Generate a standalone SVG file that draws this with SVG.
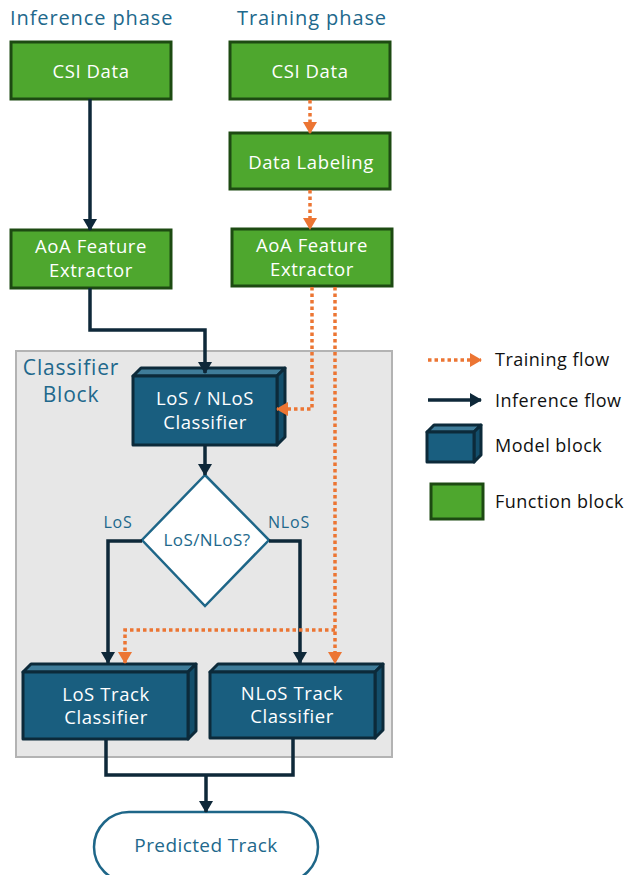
<svg xmlns="http://www.w3.org/2000/svg" width="629" height="875" viewBox="0 0 629 875">
  <defs>
    <style>
      .title { font-family: "Open Sans", "Liberation Sans", sans-serif; font-size: 20px; letter-spacing: 0.9px; fill: #21688c; }
      .fn rect { fill: #4ea72e; stroke: #1d4a12; stroke-width: 3; }
      .lbl { font-family: "Open Sans", "Liberation Sans", sans-serif; font-size: 18.5px; letter-spacing: 0.6px; fill: #ffffff; text-anchor: middle; }
      .front { fill: #195e7f; stroke: #0c2a3a; stroke-width: 3; stroke-linejoin: round; }
      .top { fill: #3f7c99; stroke: #0c2a3a; stroke-width: 3; stroke-linejoin: round; }
      .side { fill: #134e6b; stroke: #0c2a3a; stroke-width: 3; stroke-linejoin: round; }
      .inf { fill: none; stroke: #0e2839; stroke-width: 3.5; marker-end: url(#arrInf); }
      .inf-plain { fill: none; stroke: #0e2839; stroke-width: 3.5; }
      .trn { fill: none; stroke: #ec7533; stroke-width: 3.5; stroke-dasharray: 3.5 3; }
      .trn-end { marker-end: url(#arrTrn); }
      .blue { font-family: "Open Sans", "Liberation Sans", sans-serif; fill: #21688c; text-anchor: middle; }
      .legend { font-family: "Open Sans", "Liberation Sans", sans-serif; font-size: 18px; letter-spacing: 0.5px; fill: #111111; }
    </style>
    <marker id="arrInf" markerUnits="userSpaceOnUse" markerWidth="14" markerHeight="14" viewBox="0 0 12 14" refX="11" refY="7" orient="auto">
      <path d="M0,0 L12,7 L0,14 z" fill="#0e2839"/>
    </marker>
    <marker id="arrTrn" markerUnits="userSpaceOnUse" markerWidth="14" markerHeight="14" viewBox="0 0 12 14" refX="11" refY="7" orient="auto">
      <path d="M0,0 L12,7 L0,14 z" fill="#ec7533"/>
    </marker>
  </defs>

  <rect width="629" height="875" fill="#ffffff"/>

  <!-- phase titles -->
  <text class="title" x="10" y="25">Inference phase</text>
  <text class="title" x="237" y="25">Training phase</text>

  <!-- classifier container -->
  <g id="classifier-block">
    <rect x="16" y="351" width="376" height="406" fill="#e7e7e7" stroke="#b3b3b3" stroke-width="2"/>
    <text class="blue" font-size="21" letter-spacing="0.8" x="71" y="375">Classifier</text>
    <text class="blue" font-size="21" letter-spacing="0.8" x="71" y="402">Block</text>
  </g>

  <!-- function blocks -->
  <g id="inf-csi" class="fn">
    <rect x="11" y="42" width="160" height="57"/>
    <text class="lbl" x="91" y="78">CSI Data</text>
  </g>
  <g id="trn-csi" class="fn">
    <rect x="230" y="42" width="160" height="57"/>
    <text class="lbl" x="310" y="78">CSI Data</text>
  </g>
  <g id="trn-label" class="fn">
    <rect x="230" y="133" width="160" height="56"/>
    <text class="lbl" x="311" y="169">Data Labeling</text>
  </g>
  <g id="inf-aoa" class="fn">
    <rect x="11" y="230" width="160" height="58"/>
    <text class="lbl" x="91" y="253">AoA Feature</text>
    <text class="lbl" x="91" y="277">Extractor</text>
  </g>
  <g id="trn-aoa" class="fn">
    <rect x="232" y="229" width="160" height="57"/>
    <text class="lbl" x="312" y="252">AoA Feature</text>
    <text class="lbl" x="312" y="276">Extractor</text>
  </g>

  <!-- model blocks (front, top and side faces) -->
  <g id="los-nlos-classifier">
    <polygon class="top" points="133,376 141,368 285,368 277,376"/>
    <polygon class="side" points="277,376 285,368 285,437 277,445"/>
    <rect class="front" x="133" y="376" width="144" height="69"/>
    <text class="lbl" x="205" y="405">LoS / NLoS</text>
    <text class="lbl" x="205" y="429">Classifier</text>
  </g>
  <g id="los-track">
    <polygon class="top" points="23,672 31,664 196,664 188,672"/>
    <polygon class="side" points="188,672 196,664 196,731 188,739"/>
    <rect class="front" x="23" y="672" width="165" height="67"/>
    <text class="lbl" x="106" y="701">LoS Track</text>
    <text class="lbl" x="106" y="724">Classifier</text>
  </g>
  <g id="nlos-track">
    <polygon class="top" points="210,672 218,664 383,664 375,672"/>
    <polygon class="side" points="375,672 383,664 383,730 375,738"/>
    <rect class="front" x="210" y="672" width="165" height="66"/>
    <text class="lbl" x="292" y="700">NLoS Track</text>
    <text class="lbl" x="292" y="723">Classifier</text>
  </g>

  <!-- decision -->
  <g id="decision">
    <polygon points="205,475 269,540 205,606 142,540" fill="#ffffff" stroke="#1e6688" stroke-width="2.5"/>
    <text class="blue" font-size="17" letter-spacing="0.4" x="207" y="546">LoS/NLoS?</text>
    <text class="blue" font-size="16" letter-spacing="0.8" x="118" y="528">LoS</text>
    <text class="blue" font-size="16" letter-spacing="0.8" x="289" y="528">NLoS</text>
  </g>

  <!-- output terminal -->
  <g id="predicted-track">
    <rect x="94" y="812" width="224" height="70" rx="35" ry="35" fill="#ffffff" stroke="#1e6688" stroke-width="2.5"/>
    <text class="blue" font-size="19" letter-spacing="0.4" x="206" y="852">Predicted Track</text>
  </g>

  <!-- connectors -->
  <g id="connectors">
    <path class="inf" d="M90,99 V230"/>
    <path class="inf" d="M90,288 V330 H205 V373"/>
    <path class="inf" d="M205,445 V475"/>
    <path class="inf" d="M142,541 H108 V663"/>
    <path class="inf" d="M269,541 H300 V663"/>
    <path class="inf-plain" d="M106,739 V775 H293 V738"/>
    <path class="inf" d="M206,775 V812"/>

    <path class="trn trn-end" d="M310,100 V133"/>
    <path class="trn trn-end" d="M310,190 V229"/>
    <path class="trn trn-end" d="M312,287 V409 H277"/>
    <path class="trn trn-end" d="M335,287 V663"/>
    <path class="trn trn-end" d="M335,630 H125 V663"/>
  </g>

  <!-- legend -->
  <g id="legend">
    <path class="trn trn-end" d="M428,360 H481"/>
    <text class="legend" x="495" y="366">Training flow</text>
    <path class="inf" d="M428,400 H481"/>
    <text class="legend" x="495" y="407">Inference flow</text>
    <g id="legend-model">
      <polygon class="top" points="427,432 434,425 481,425 474,432"/>
      <polygon class="side" points="474,432 481,425 481,455 474,462"/>
      <rect class="front" x="427" y="432" width="47" height="30"/>
    </g>
    <text class="legend" x="495" y="452">Model block</text>
    <g id="legend-function" class="fn">
      <rect x="431" y="484" width="52" height="35"/>
    </g>
    <text class="legend" x="495" y="508">Function block</text>
  </g>
</svg>
